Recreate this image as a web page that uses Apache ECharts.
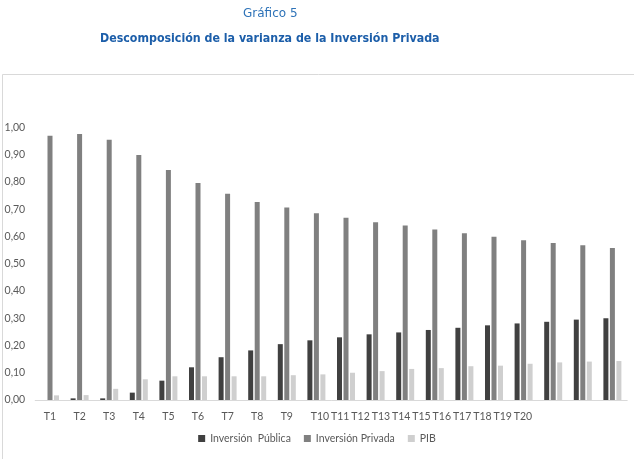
<!DOCTYPE html>
<html>
<head>
<meta charset="utf-8">
<script src="https://cdn.jsdelivr.net/npm/echarts@6/dist/echarts.min.js"></script>
<style>
html,body{margin:0;padding:0;background:#fff;}
#chart{width:634px;height:459px;}
</style>
</head>
<body>
<div id="chart"></div>
<script>
var categories = ['T1','T2','T3','T4','T5','T6','T7','T8','T9','T10','T11','T12','T13','T14','T15','T16','T17','T18','T19','T20'];
var inversionPublica = [0.000, 0.006, 0.006, 0.027, 0.071, 0.120, 0.157, 0.182, 0.205, 0.219, 0.230, 0.241, 0.248, 0.257, 0.265, 0.274, 0.281, 0.287, 0.295, 0.300];
var inversionPrivada = [0.970, 0.976, 0.955, 0.899, 0.844, 0.796, 0.757, 0.727, 0.706, 0.685, 0.669, 0.652, 0.640, 0.626, 0.612, 0.599, 0.586, 0.576, 0.568, 0.558];
var pib = [0.017, 0.018, 0.041, 0.076, 0.087, 0.087, 0.087, 0.087, 0.091, 0.094, 0.100, 0.106, 0.114, 0.117, 0.124, 0.126, 0.133, 0.138, 0.141, 0.143];
var seriesNames = ['Inversión  Pública', 'Inversión Privada', 'PIB'];
var titleText = 'Gráfico 5';
var subtitleText = 'Descomposición de la varianza de la Inversión Privada';

// Label placement on a continuous overlay axis (reproduces the source's crowded tick labels)
var labelPos = categories.map(function (c, i) {
  return i < 9 ? i + 0.5 : 9.62 + (i - 9) * 0.686;
});

var chart = echarts.init(document.getElementById('chart'), null, {renderer: 'canvas'});
var axisFont = 'Lato, "Liberation Sans", sans-serif';
var labelColor = '#595959';

chart.setOption({
  animation: false,
  backgroundColor: '#ffffff',
  title: [
    {text: titleText, left: 238, top: 3,
     textStyle: {fontFamily: '"DejaVu Sans", Verdana, sans-serif', fontSize: 12, fontWeight: 'normal', color: '#2e73b8'}},
    {text: subtitleText, left: 95, top: 28,
     textStyle: {fontFamily: '"DejaVu Sans Condensed", "DejaVu Sans", sans-serif', fontSize: 12.3, fontWeight: 'bold', color: '#1c5ea9'}}
  ],
  graphic: [{
    type: 'rect', left: 0, top: 72, z: -1, silent: true,
    shape: {width: 632, height: 400},
    style: {fill: 'none', stroke: '#d9d9d9', lineWidth: 1}
  }],
  legend: {
    bottom: 10, left: 'center',
    itemWidth: 7, itemHeight: 7, itemGap: 13,
    icon: 'rect',
    textStyle: {fontFamily: axisFont, fontSize: 10.5, color: labelColor},
    data: seriesNames
  },
  grid: {left: 35.2, right: 6.8, top: 127.5, bottom: 59, containLabel: false},
  xAxis: [{
    type: 'category', data: categories, boundaryGap: true,
    axisLine: {show: true, lineStyle: {color: '#d9d9d9', width: 1}},
    axisTick: {show: false},
    axisLabel: {show: false},
    splitLine: {show: false}
  }, {
    type: 'value', min: 0, max: categories.length, position: 'bottom',
    axisLine: {show: false}, axisTick: {show: false}, splitLine: {show: false},
    axisLabel: {
      show: true, margin: 11, fontFamily: axisFont, fontSize: 10.5, color: labelColor,
      customValues: labelPos,
      formatter: function (v) {
        var best = 0, d = Infinity;
        for (var i = 0; i < labelPos.length; i++) {
          var dd = Math.abs(labelPos[i] - v);
          if (dd < d) { d = dd; best = i; }
        }
        return categories[best];
      }
    }
  }],
  yAxis: {
    type: 'value', min: 0, max: 1, interval: 0.1,
    axisLine: {show: false}, axisTick: {show: false}, splitLine: {show: false},
    axisLabel: {
      margin: 10, fontFamily: axisFont, fontSize: 10.5, color: labelColor,
      formatter: function (v) { return v.toFixed(2).replace('.', ','); }
    }
  },
  series: [
    {name: seriesNames[0], type: 'bar', data: inversionPublica, barWidth: 5, barGap: '30%', itemStyle: {color: '#404040'}},
    {name: seriesNames[1], type: 'bar', data: inversionPrivada, barWidth: 5, barGap: '30%', itemStyle: {color: '#808080'}},
    {name: seriesNames[2], type: 'bar', data: pib, barWidth: 5, barGap: '30%', itemStyle: {color: '#cfcfcf'}}
  ]
});
</script>
</body>
</html>
